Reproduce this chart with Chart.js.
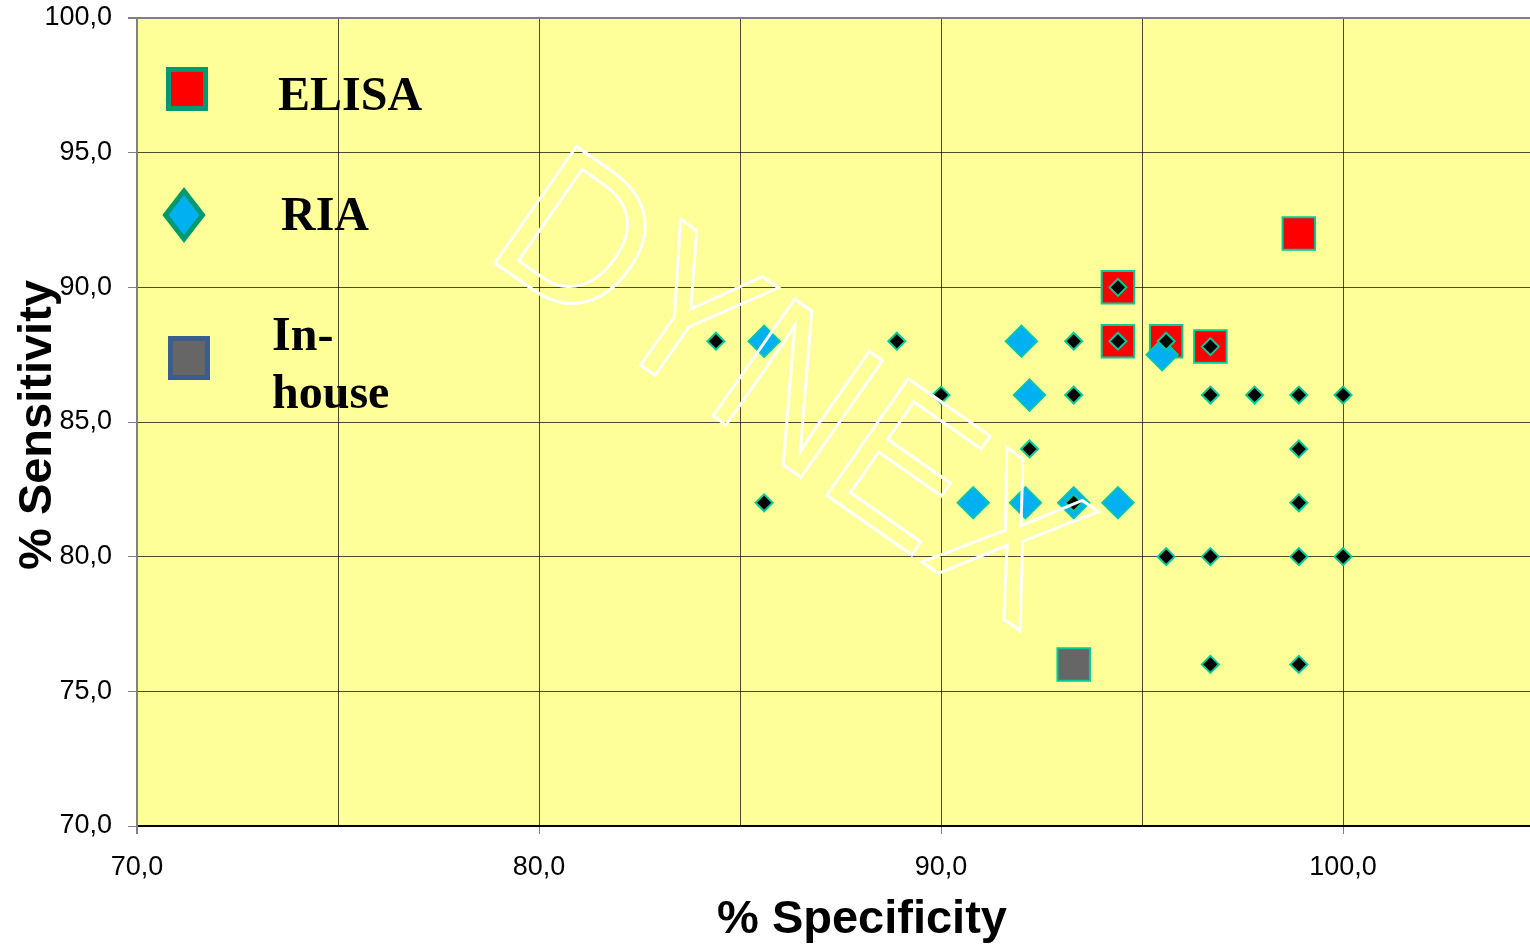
<!DOCTYPE html>
<html>
<head>
<meta charset="utf-8">
<title>% Sensitivity vs % Specificity</title>
<script src="https://cdn.jsdelivr.net/npm/chart.js@4.4.1/dist/chart.umd.min.js"></script>
<style>
  html, body { margin: 0; padding: 0; background: #ffffff; overflow: hidden; }
  canvas { display: block; }
</style>
</head>
<body>
<canvas id="scatterChart" width="1530" height="950"></canvas>
<script>
// values: x = % specificity, y = % sensitivity
const elisaSpec = [94.4, 94.4, 95.6, 96.7, 98.9];
const elisaSens = [90.0, 88.0, 88.0, 87.8, 92.0];

const riaSpec = [85.6, 92.0, 92.2, 90.8, 92.1, 93.3, 94.4, 95.5];
const riaSens = [88.0, 88.0, 86.0, 82.0, 82.0, 82.0, 82.0, 87.5];

const inhouseSpec = [93.3];
const inhouseSens = [76.0];

const dynexSpec = [84.4, 88.9, 90.0, 92.2, 93.3, 93.3, 93.3, 94.4, 94.4, 95.6, 96.7, 96.7,
  97.8, 98.9, 100.0, 98.9, 98.9, 95.6, 96.7, 98.9, 100.0, 96.7, 98.9, 85.6];
const dynexSens = [88.0, 88.0, 86.0, 84.0, 88.0, 86.0, 82.0, 90.0, 88.0, 88.0, 87.8, 86.0,
  86.0, 86.0, 86.0, 84.0, 82.0, 80.0, 80.0, 80.0, 80.0, 76.0, 76.0, 82.0];

const xTicks = [70, 75, 80, 85, 90, 95, 100];
const yTicks = [70, 75, 80, 85, 90, 95, 100];
const legendLabels = ["ELISA", "RIA", "In-house"];

const toPoints = (xs, ys) => xs.map((x, i) => ({ x: x, y: ys[i] }));
const formatNum = (v) => v.toFixed(1).replace(".", ",");

const SANS = '"Liberation Sans", Arial, sans-serif';
const SERIF = '"Liberation Serif", "Times New Roman", serif';

// no extra room for the edge labels, the plot box is fixed
const noPadding = (s) => {
  s.paddingTop = 0;
  s.paddingBottom = 0;
  s.paddingLeft = 0;
  s.paddingRight = 0;
};

const plotBackground = {
  id: "plotBackground",
  beforeDraw: (chart) => {
    const { ctx, chartArea: a } = chart;
    ctx.save();
    ctx.fillStyle = "#FFFF99";
    ctx.fillRect(a.left, a.top, a.right - a.left, a.bottom - a.top);
    ctx.restore();
  },
};

// outlined "DYNEX" watermark sitting over the points
const watermark = {
  id: "watermark",
  afterDatasetsDraw: (chart) => {
    const { ctx, chartArea: a } = chart;
    ctx.save();
    ctx.beginPath();
    ctx.rect(a.left, a.top, a.right - a.left, a.bottom - a.top);
    ctx.clip();
    ctx.translate(a.left + 345, a.top + 236);
    ctx.rotate((35 * Math.PI) / 180);
    ctx.scale(1.02, 1.1);
    ctx.font = "188px " + SANS;
    ctx.textBaseline = "alphabetic";
    ctx.strokeStyle = "#FFFFFF";
    ctx.lineWidth = 2.8;
    ctx.strokeText("DYNEX", 0, 0);
    ctx.restore();
  },
};

const legendAndTitles = {
  id: "legendAndTitles",
  afterDraw: (chart) => {
    const { ctx, chartArea: a } = chart;
    ctx.save();

    // legend markers
    const sq = (cx, cy, w, h, fill, stroke) => {
      ctx.fillStyle = fill;
      ctx.strokeStyle = stroke;
      ctx.lineWidth = 5;
      ctx.beginPath();
      ctx.rect(cx - w / 2 + 2.5, cy - h / 2 + 2.5, w - 5, h - 5);
      ctx.fill();
      ctx.stroke();
    };
    const dia = (cx, cy, w, h, fill, stroke) => {
      ctx.fillStyle = fill;
      ctx.strokeStyle = stroke;
      ctx.lineWidth = 5;
      ctx.beginPath();
      ctx.moveTo(cx, cy - h / 2 + 3);
      ctx.lineTo(cx + w / 2 - 3, cy);
      ctx.lineTo(cx, cy + h / 2 - 3);
      ctx.lineTo(cx - w / 2 + 3, cy);
      ctx.closePath();
      ctx.fill();
      ctx.stroke();
    };
    sq(a.left + 50, a.top + 71, 42, 44, "#FF0000", "#009970");
    dia(a.left + 47, a.top + 197, 43, 54, "#00B0F0", "#009970");
    sq(a.left + 52, a.top + 340, 42, 44, "#666666", "#3B5E8C");

    ctx.fillStyle = "#000000";
    ctx.font = "bold 48px " + SERIF;
    ctx.textAlign = "left";
    ctx.textBaseline = "alphabetic";
    ctx.fillText(legendLabels[0], a.left + 141, a.top + 92);
    ctx.fillText(legendLabels[1], a.left + 144, a.top + 212);
    const parts = legendLabels[2].split(/(?<=-)/);
    ctx.fillText(parts[0], a.left + 135, a.top + 332);
    ctx.fillText(parts[1], a.left + 135, a.top + 390);

    // axis titles
    ctx.font = "bold 47px " + SANS;
    ctx.textAlign = "center";
    ctx.textBaseline = "middle";
    ctx.fillText("% Specificity", 862, 920);
    ctx.translate(38, 425);
    ctx.rotate(-Math.PI / 2);
    ctx.fillText("% Sensitivity", 0, 0);
    ctx.restore();
  },
};

const crearGrafica = () => {
  const ctx = document.getElementById("scatterChart").getContext("2d");

  new Chart(ctx, {
    type: "scatter",
    data: {
      datasets: [
        {
          label: "DYNEX",
          data: toPoints(dynexSpec, dynexSens),
          pointStyle: "rectRot",
          pointRadius: 8.5,
          pointBackgroundColor: "#000000",
          pointBorderColor: "#00CC99",
          pointBorderWidth: 2,
          order: 0,
        },
        {
          label: legendLabels[2],
          data: toPoints(inhouseSpec, inhouseSens),
          pointStyle: "rect",
          pointRadius: 23,
          pointBackgroundColor: "#666666",
          pointBorderColor: "#00CC99",
          pointBorderWidth: 2,
          order: 1,
        },
        {
          label: legendLabels[1],
          data: toPoints(riaSpec, riaSens),
          pointStyle: "rectRot",
          pointRadius: 16,
          pointBackgroundColor: "#00B0F0",
          pointBorderColor: "#00CC99",
          pointBorderWidth: 1.5,
          order: 2,
        },
        {
          label: legendLabels[0],
          data: toPoints(elisaSpec, elisaSens),
          pointStyle: "rect",
          pointRadius: 23,
          pointBackgroundColor: "#FF0000",
          pointBorderColor: "#00CC99",
          pointBorderWidth: 2,
          order: 3,
        },
      ],
    },
    options: {
      responsive: false,
      animation: false,
      layout: { autoPadding: false, padding: { top: 18, left: 0, right: 0, bottom: 0 } },
      plugins: {
        legend: { display: false },
        tooltip: { enabled: false },
      },
      scales: {
        x: {
          type: "linear",
          min: xTicks[0],
          max: 104.65,
          afterFit: (s) => { s.height = 124; noPadding(s); },
          afterBuildTicks: (s) => { s.ticks = xTicks.map((v) => ({ value: v })); },
          border: { color: "#000000", width: 2 },
          grid: {
            color: (c) => (c.tick && c.tick.value === 70 ? "#808080" : "rgba(0,0,0,0.7)"),
            lineWidth: (c) => (c.tick && c.tick.value === 70 ? 2 : 1),
            tickLength: 8,
            tickColor: (c) => (c.tick && c.tick.value % 10 === 0 ? "#808080" : "rgba(0,0,0,0)"),
          },
          ticks: {
            autoSkip: false,
            maxRotation: 0,
            padding: 17,
            color: "#000000",
            font: { family: SANS, size: 27 },
            callback: (v) => (v % 10 === 0 ? formatNum(v) : ""),
          },
        },
        y: {
          type: "linear",
          min: yTicks[0],
          max: yTicks[yTicks.length - 1],
          afterFit: (s) => { s.width = 137; noPadding(s); },
          afterBuildTicks: (s) => { s.ticks = yTicks.map((v) => ({ value: v })); },
          border: { color: "#808080", width: 2 },
          grid: {
            color: (c) => (c.tick && c.tick.value === 100 ? "#808080" : "rgba(0,0,0,0.7)"),
            lineWidth: (c) => (c.tick && c.tick.value === 100 ? 2 : 1),
            tickLength: 9,
            tickColor: "#808080",
          },
          ticks: {
            padding: 16,
            color: "#000000",
            font: { family: SANS, size: 27 },
            callback: (v) => formatNum(v),
          },
        },
      },
    },
    plugins: [plotBackground, watermark, legendAndTitles],
  });
};

document.addEventListener("DOMContentLoaded", crearGrafica);
</script>
</body>
</html>
